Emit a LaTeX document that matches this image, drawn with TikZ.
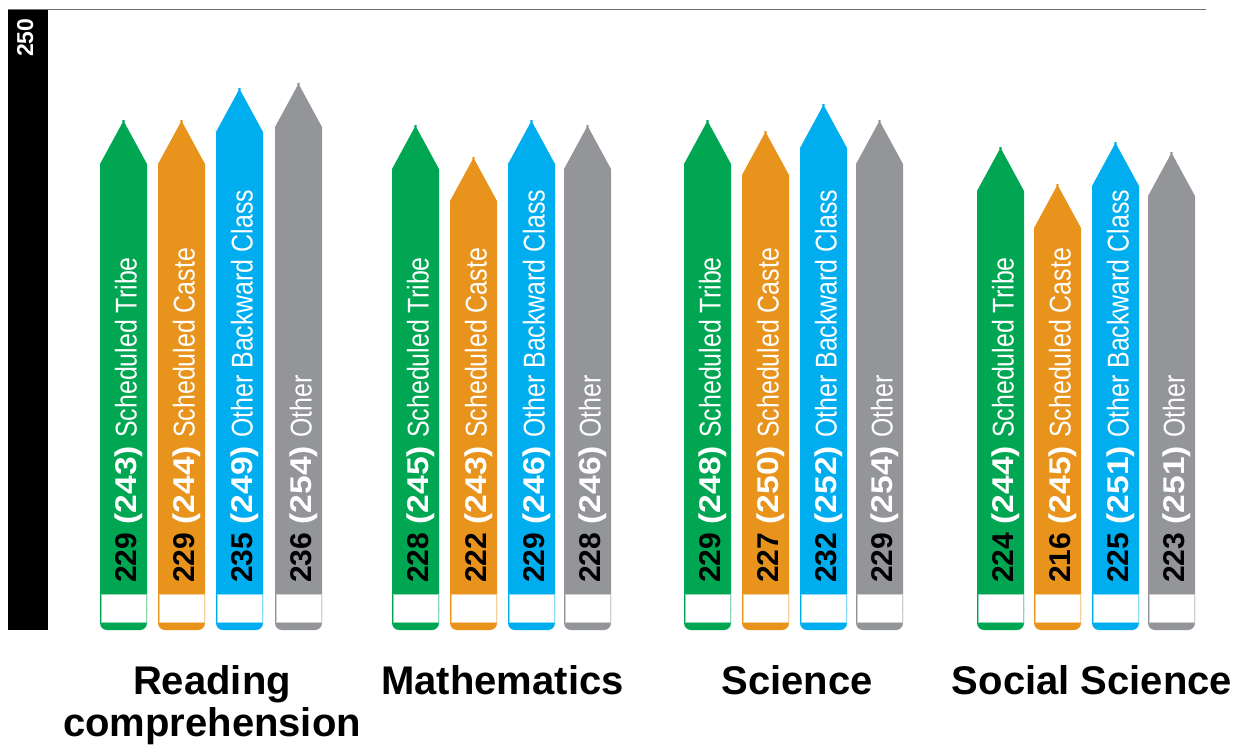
\documentclass[tikz,border=0pt]{standalone}
\usepackage{fontspec}
\setmainfont{Liberation Sans}
\newfontfamily\narrowfont[FakeStretch=0.83]{Liberation Sans}
\newfontfamily\widebold[FakeStretch=1.12]{Liberation Sans Bold}
\definecolor{cgreen}{RGB}{0,166,81}
\definecolor{corange}{RGB}{232,148,28}
\definecolor{cblue}{RGB}{0,174,239}
\definecolor{cgray}{RGB}{147,149,152}
\definecolor{topline}{RGB}{110,110,110}
\tikzset{
  pencillabel/.style={rotate=90, anchor=base west, inner sep=0pt, font=\fontsize{30}{30}\selectfont},
  catlabel/.style={anchor=base, inner sep=0pt, font=\bfseries\fontsize{40}{40}\selectfont},
}
\newcommand\pencil[7]{%
  \pgfmathsetmacro\pl{#2}%
  \pgfmathsetmacro\pr{#2+47}%
  \pgfmathsetmacro\pc{#2+23.5}%
  \pgfmathsetmacro\ps{#3+44}%
  \fill[#4] (\pl,\ps) -- (\pc-1.2,#3+3) -- (\pc-1.2,#3) -- (\pc+1.2,#3) -- (\pc+1.2,#3+3) -- (\pr,\ps) -- (\pr,610) -- (\pl,610) -- cycle;
  \fill[#4, rounded corners=7pt] (\pl,600) rectangle (\pr,630);
  \filldraw[fill=white, draw=#4!45, line width=1pt] (\pl+1,594) rectangle (\pr-1,622);
  \node[pencillabel] (#1) at (\pc+13,583) {{\bfseries\color{black}#5} {\widebold\color{white}(#6)} {\narrowfont\color{white}#7}};
}
\begin{document}
\begin{tikzpicture}[x=1pt, y=-1pt]
\useasboundingbox (0,0) rectangle (1245,752);
\fill[black] (8,9) rectangle (48,630);
\draw[topline, line width=1.5pt] (8,9.5) -- (1206,9.5);
\node[rotate=90, anchor=base west, inner sep=0pt, text=white, font=\bfseries\fontsize{23}{23}\selectfont] (axis) at (33,57) {250};
% Reading comprehension
\pencil{r1}{100}{120}{cgreen}{229}{243}{Scheduled Tribe}
\pencil{r2}{158}{120}{corange}{229}{244}{Scheduled Caste}
\pencil{r3}{216}{88}{cblue}{235}{249}{Other Backward Class}
\pencil{r4}{275}{83}{cgray}{236}{254}{Other}
% Mathematics
\pencil{m1}{392}{125}{cgreen}{228}{245}{Scheduled Tribe}
\pencil{m2}{450}{157}{corange}{222}{243}{Scheduled Caste}
\pencil{m3}{508}{120}{cblue}{229}{246}{Other Backward Class}
\pencil{m4}{564}{125}{cgray}{228}{246}{Other}
% Science
\pencil{s1}{684}{120}{cgreen}{229}{248}{Scheduled Tribe}
\pencil{s2}{742}{131}{corange}{227}{250}{Scheduled Caste}
\pencil{s3}{800}{104}{cblue}{232}{252}{Other Backward Class}
\pencil{s4}{856}{120}{cgray}{229}{254}{Other}
% Social Science
\pencil{ss1}{977}{147}{cgreen}{224}{244}{Scheduled Tribe}
\pencil{ss2}{1034}{184}{corange}{216}{245}{Scheduled Caste}
\pencil{ss3}{1092}{142}{cblue}{225}{251}{Other Backward Class}
\pencil{ss4}{1148}{152}{cgray}{223}{251}{Other}
% Category labels
\node[catlabel] (lread) at (212,694) {Reading};
\node[catlabel] (lcomp) at (212,736) {comprehension};
\node[catlabel] (lmath) at (502.5,694) {Mathematics};
\node[catlabel] (lsci) at (797,694) {Science};
\node[catlabel] (lsoc) at (1092,694) {Social Science};
\end{tikzpicture}
\end{document}
